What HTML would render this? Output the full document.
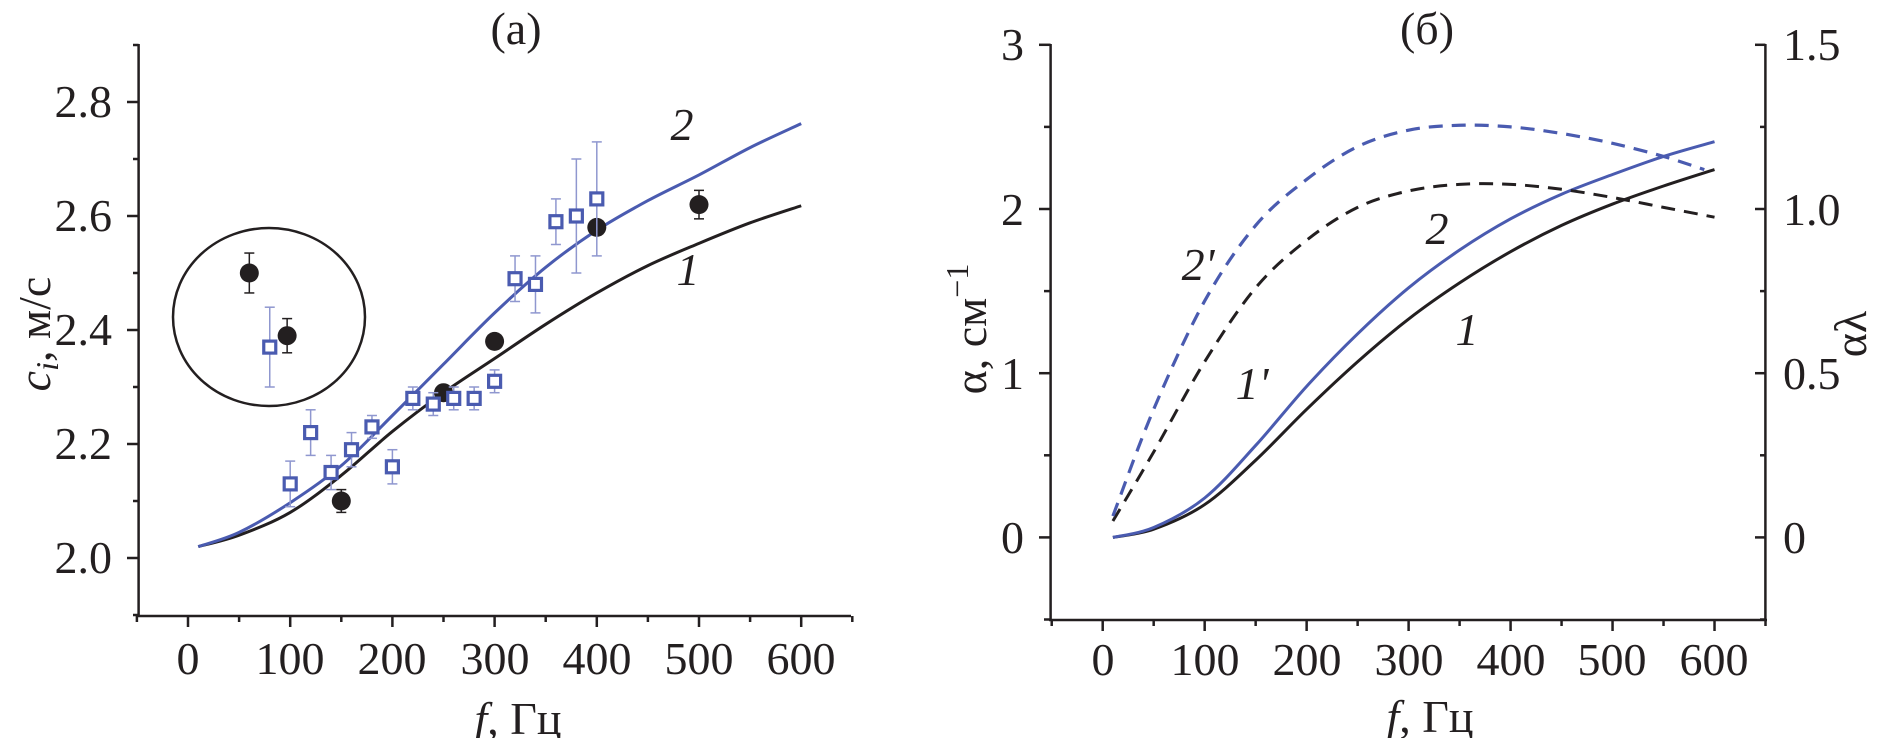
<!DOCTYPE html>
<html><head><meta charset="utf-8"><style>
html,body{margin:0;padding:0;background:#fff;}
svg{display:block;}
text{font-family:"Liberation Serif",serif;fill:#231f20;}
</style></head><body>
<svg id="s" width="1878" height="738" viewBox="0 0 1878 738" xmlns="http://www.w3.org/2000/svg">
<g id="g"></g>
<g font-size="46">
<text x="516" y="44" text-anchor="middle">(a)</text>
<text x="1427" y="44" text-anchor="middle">(б)</text>
<g text-anchor="end">
<text x="112" y="573">2.0</text><text x="112" y="459">2.2</text><text x="112" y="345">2.4</text><text x="112" y="231">2.6</text><text x="112" y="117">2.8</text>
<text x="1024" y="553">0</text><text x="1024" y="389">1</text><text x="1024" y="225">2</text><text x="1024" y="60">3</text>
</g>
<text x="1783" y="553">0</text><text x="1783" y="389">0.5</text><text x="1783" y="225">1.0</text><text x="1783" y="60">1.5</text>
<g text-anchor="middle">
<text x="188" y="674">0</text><text x="290" y="674">100</text><text x="392" y="674">200</text><text x="495" y="674">300</text><text x="597" y="674">400</text><text x="699" y="674">500</text><text x="801" y="674">600</text>
<text x="1103" y="675">0</text><text x="1205" y="675">100</text><text x="1307" y="675">200</text><text x="1409" y="675">300</text><text x="1511" y="675">400</text><text x="1612" y="675">500</text><text x="1714" y="675">600</text>
<text x="518" y="734"><tspan font-style="italic">f</tspan>, Гц</text>
<text x="1430" y="732"><tspan font-style="italic">f</tspan>, Гц</text>
<text transform="translate(50,334) rotate(-90)"><tspan font-style="italic">c</tspan><tspan font-style="italic" font-size="32" dy="8">i</tspan><tspan dy="-8">, м/с</tspan></text>
<text transform="translate(986,329) rotate(-90)">α, см<tspan font-size="32" dy="-18">−1</tspan></text>
<text transform="translate(1866,334) rotate(-90)">αλ</text>
</g>
<g font-style="italic" text-anchor="middle">
<text x="682" y="140">2</text><text x="688" y="285">1</text>
<text x="1198" y="280">2'</text><text x="1252" y="399">1'</text>
<text x="1437" y="244">2</text><text x="1467" y="345">1</text>
</g>
</g>
</svg>
<script>
var NS="http://www.w3.org/2000/svg",G=document.getElementById('g');
function el(t,a){var e=document.createElementNS(NS,t);for(var k in a)e.setAttribute(k,a[k]);G.appendChild(e);return e;}
function line(x1,y1,x2,y2,c,w){el('line',{x1:x1,y1:y1,x2:x2,y2:y2,stroke:c||'#231f20','stroke-width':w||2.5});}
function cr(p){var d='M'+p[0][0]+','+p[0][1];for(var i=0;i<p.length-1;i++){var p0=p[i-1]||p[i],p1=p[i],p2=p[i+1],p3=p[i+2]||p2;
d+=' C'+(p1[0]+(p2[0]-p0[0])/6)+','+(p1[1]+(p2[1]-p0[1])/6)+' '+(p2[0]-(p3[0]-p1[0])/6)+','+(p2[1]-(p3[1]-p1[1])/6)+' '+p2[0]+','+p2[1];}return d;}
var K='#231f20',B='#4a5bb0',BL='#8f97cf';
function xL(f){return 188+1.022*f;} function yL(c){return 558-(c-2)*570;}
line(138.6,44,138.6,616);line(137,616,851,616);
for(var c=1.9;c<2.95;c+=0.1){var y=yL(c),maj=Math.round(c*10)%2==0;line(maj?127:133,y,138.6,y);}
for(var f=-50;f<=650;f+=50){var x=xL(f),maj=f%100==0;line(x,616,x,maj?627:622);}
var c1=[[10,2.02],[50,2.04],[100,2.08],[150,2.145],[200,2.222],[250,2.29],[300,2.35],[350,2.41],[400,2.465],[450,2.513],[500,2.552],[550,2.588],[600,2.618]];
var c2=[[10,2.02],[50,2.045],[100,2.097],[150,2.162],[200,2.25],[250,2.34],[300,2.43],[350,2.51],[400,2.575],[450,2.627],[500,2.672],[550,2.72],[600,2.762]];
el('path',{d:cr(c1.map(function(p){return[xL(p[0]),yL(p[1])]})),fill:'none',stroke:K,'stroke-width':3});
el('path',{d:cr(c2.map(function(p){return[xL(p[0]),yL(p[1])]})),fill:'none',stroke:B,'stroke-width':3});
el('ellipse',{cx:269,cy:317,rx:96,ry:89,fill:'none',stroke:K,'stroke-width':2.5});
var sq=[[80,2.37,.07],[100,2.13,.04],[120,2.22,.04],[140,2.15,.03],[160,2.19,.03],[180,2.23,.02],[200,2.16,.03],[220,2.28,.02],[240,2.27,.02],[260,2.28,.02],[280,2.28,.02],[300,2.31,.02],[320,2.49,.04],[340,2.48,.05],[360,2.59,.04],[380,2.6,.1],[400,2.63,.1]];
var dots=[[60,2.5,.035],[97,2.39,.03],[150,2.1,.02],[250,2.29,0],[300,2.38,0],[400,2.58,0],[500,2.62,.025]];
dots.forEach(function(p){var x=xL(p[0]),y=yL(p[1]);if(p[2]){var a=yL(p[1]+p[2]),b=yL(p[1]-p[2]);line(x,a,x,b,K,1.5);line(x-5,a,x+5,a,K,1.5);line(x-5,b,x+5,b,K,1.5);}
el('circle',{cx:x,cy:y,r:9.5,fill:K});});
sq.forEach(function(p){var x=xL(p[0]),y=yL(p[1]),a=yL(p[1]+p[2]),b=yL(p[1]-p[2]);line(x,a,x,b,BL,1.5);line(x-5,a,x+5,a,BL,1.5);line(x-5,b,x+5,b,BL,1.5);
el('rect',{x:x-6,y:y-6,width:12,height:12,fill:'#fff',stroke:B,'stroke-width':3.2});});
function xR(f){return 1102.7+1.0197*f;} function yR(a){return 537.4-164.2*a;}
line(1050.6,44,1050.6,620);line(1765.4,44,1765.4,620);line(1049,620,1767,620);
for(var a=-0.5;a<=3.01;a+=0.5){var y=yR(a),maj=Math.abs(a-Math.round(a))<0.01;line(maj?1039:1044,y,1050.6,y);line(1765.4,y,maj?1755:1760,y);}
for(var f=-50;f<=650;f+=50){var x=xR(f),maj=f%100==0;line(x,620,x,maj?631:626);}
function P(arr){return cr(arr.map(function(p){return[xR(p[0]),yR(p[1])]}));}
el('path',{d:P([[10,0],[50,0.05],[100,0.2],[150,0.47],[200,0.78],[250,1.07],[300,1.33],[350,1.55],[400,1.74],[450,1.9],[500,2.03],[550,2.14],[600,2.24]]),fill:'none',stroke:K,'stroke-width':3});
el('path',{d:P([[10,0],[50,0.06],[100,0.24],[150,0.56],[200,0.92],[250,1.24],[300,1.52],[350,1.75],[400,1.94],[450,2.09],[500,2.21],[550,2.32],[600,2.41]]),fill:'none',stroke:B,'stroke-width':3});
el('path',{d:P([[10,0.1],[50,0.52],[100,1.07],[150,1.52],[200,1.81],[250,2.01],[300,2.11],[350,2.15],[400,2.15],[450,2.12],[500,2.07],[550,2.01],[600,1.95]]),fill:'none',stroke:K,'stroke-width':3,'stroke-dasharray':'14 9'});
el('path',{d:P([[10,0.13],[50,0.78],[100,1.44],[150,1.9],[200,2.18],[250,2.38],[300,2.48],[350,2.51],[400,2.5],[450,2.46],[500,2.4],[550,2.32],[590,2.24]]),fill:'none',stroke:B,'stroke-width':3.2,'stroke-dasharray':'14 9'});
</script>
</body></html>
